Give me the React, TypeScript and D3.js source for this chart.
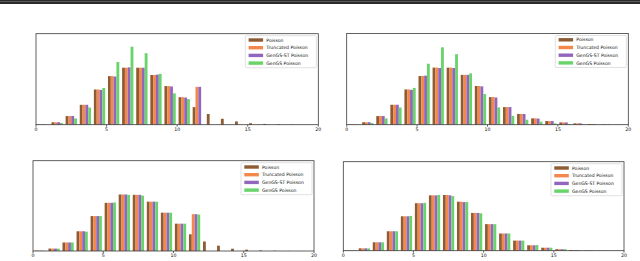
import React from "react";
import * as d3 from "d3";

// bins of the histograms (left edge of each unit bin)
const bins = [0, 1, 2, 3, 4, 5, 6, 7, 8, 9, 10, 11, 12, 13, 14, 15, 16, 17, 18, 19];
const seriesNames = ["Poisson", "Truncated Poisson", "GenGS-ST Poisson", "GenGS Poisson"];
const xTicks = [0, 5, 10, 15, 20];

// top-left: truncation at 11
const poissonTL = [0.0009, 0.0064, 0.0225, 0.052, 0.092, 0.127, 0.149, 0.149, 0.13, 0.101, 0.072, 0.046, 0.028, 0.0155, 0.0085, 0.004, 0.002, 0.001, 0.0005, 0.0002];
const truncTL = [0.0009, 0.0064, 0.0225, 0.052, 0.092, 0.127, 0.149, 0.149, 0.13, 0.101, 0.072, 0.099, 0, 0, 0, 0, 0, 0, 0, 0];
const genStTL = [0.0008, 0.0066, 0.0228, 0.052, 0.091, 0.126, 0.15, 0.149, 0.131, 0.1, 0.071, 0.099, 0, 0, 0, 0, 0, 0, 0, 0];
const gengsTL = [0.0002, 0.0045, 0.0165, 0.045, 0.096, 0.164, 0.204, 0.187, 0.133, 0.082, 0.067, 0, 0, 0, 0, 0, 0, 0, 0, 0];

// top-right: wide truncation
const poissonTR = [0.0009, 0.0064, 0.0225, 0.052, 0.092, 0.127, 0.149, 0.149, 0.13, 0.101, 0.072, 0.046, 0.028, 0.0165, 0.0095, 0.006, 0.0035, 0.0018, 0.0008, 0.0003];
const truncTR = [0.0009, 0.0064, 0.0225, 0.052, 0.092, 0.127, 0.149, 0.149, 0.13, 0.101, 0.072, 0.046, 0.028, 0.0165, 0.0095, 0.006, 0.0035, 0.0018, 0.0008, 0.0003];
const genStTR = [0.0008, 0.0065, 0.0226, 0.052, 0.091, 0.128, 0.148, 0.148, 0.13, 0.1, 0.071, 0.046, 0.028, 0.016, 0.0095, 0.006, 0.0035, 0.0017, 0.0008, 0.0003];
const gengsTR = [0.0002, 0.0044, 0.0165, 0.045, 0.096, 0.159, 0.202, 0.184, 0.134, 0.08, 0.045, 0.023, 0.013, 0.008, 0.0035, 0.002, 0.001, 0.0005, 0.0002, 0.0001];

// bottom-left: truncation at 11, all close
const poissonBL = [0.0009, 0.0064, 0.0225, 0.052, 0.092, 0.127, 0.149, 0.148, 0.13, 0.101, 0.072, 0.044, 0.025, 0.014, 0.006, 0.0035, 0.0015, 0.0007, 0.0003, 0.0001];
const truncBL = [0.0009, 0.0064, 0.0225, 0.052, 0.092, 0.127, 0.149, 0.148, 0.13, 0.101, 0.072, 0.097, 0, 0, 0, 0, 0, 0, 0, 0];
const genStBL = [0.0009, 0.0064, 0.0225, 0.052, 0.092, 0.127, 0.149, 0.148, 0.13, 0.101, 0.072, 0.097, 0, 0, 0, 0, 0, 0, 0, 0];
const gengsBL = [0.0009, 0.0063, 0.0224, 0.051, 0.092, 0.128, 0.148, 0.146, 0.13, 0.101, 0.072, 0.096, 0, 0, 0, 0, 0, 0, 0, 0];

// bottom-right: all close
const poissonBR = [0.0009, 0.0064, 0.0225, 0.052, 0.092, 0.127, 0.148, 0.149, 0.131, 0.101, 0.071, 0.046, 0.027, 0.0145, 0.008, 0.004, 0.0018, 0.0009, 0.0004, 0.0002];
const truncBR = [0.0009, 0.0064, 0.0225, 0.052, 0.092, 0.127, 0.148, 0.149, 0.131, 0.101, 0.071, 0.046, 0.027, 0.0145, 0.008, 0.004, 0.0018, 0.0009, 0.0004, 0.0002];
const genStBR = [0.0009, 0.0064, 0.0225, 0.052, 0.092, 0.127, 0.148, 0.148, 0.13, 0.101, 0.071, 0.046, 0.027, 0.0145, 0.008, 0.004, 0.0018, 0.0009, 0.0004, 0.0002];
const gengsBR = [0.0009, 0.0062, 0.0224, 0.052, 0.093, 0.128, 0.149, 0.146, 0.13, 0.1, 0.071, 0.046, 0.027, 0.015, 0.008, 0.0042, 0.0019, 0.0009, 0.0004, 0.0002];

const colors = ["#8e5c33", "#f4874c", "#9366bd", "#68d46a"];

const W = 640;
const H = 261;
const yMax = 0.238;

const panels = [
  { left: 36, top: 33.7, right: 318.3, bottom: 124.7, data: [poissonTL, truncTL, genStTL, gengsTL] },
  { left: 346.7, top: 33.5, right: 628.3, bottom: 124.7, data: [poissonTR, truncTR, genStTR, gengsTR] },
  { left: 33, top: 160.7, right: 314, bottom: 251, data: [poissonBL, truncBL, genStBL, gengsBL] },
  { left: 343.3, top: 161.7, right: 624, bottom: 250.7, data: [poissonBR, truncBR, genStBR, gengsBR] },
];

const font = "DejaVu Sans, sans-serif";

function Panel({ p }: { p: (typeof panels)[number] }) {
  const x = d3.scaleLinear().domain([0, 20]).range([p.left, p.right]);
  const y = d3.scaleLinear().domain([0, yMax]).range([p.bottom, p.top]);
  const dw = 0.2;

  const legW = 71;
  const legX = p.right - 2 - legW;
  const legY = p.top + 2;

  return (
    <g>
      {p.data.map((vals, si) => (
        <g key={si} fill={colors[si]}>
          {vals.map((v, i) => {
            const x0 = x(bins[i] + 0.1 + si * dw);
            const x1 = x(bins[i] + 0.1 + (si + 1) * dw);
            const yt = y(v);
            return v > 0 ? (
              <rect key={i} x={x0} y={yt} width={x1 - x0} height={p.bottom - yt} />
            ) : null;
          })}
        </g>
      ))}
      {/* axes frame */}
      <rect x={p.left} y={p.top} width={p.right - p.left} height={p.bottom - p.top}
        fill="none" stroke="#3a3a3a" strokeWidth={0.8} />
      {xTicks.map((t) => (
        <g key={t}>
          <line x1={x(t)} x2={x(t)} y1={p.bottom} y2={p.bottom + 2} stroke="#222" strokeWidth={0.7} />
          <text x={x(t)} y={p.bottom + 6.3} fontSize={4.7} textAnchor="middle"
            fontFamily={font} fill="#111">{t}</text>
        </g>
      ))}
      {/* legend */}
      <rect x={legX} y={legY} width={legW} height={32} rx={1} fill="#fff" fillOpacity={0.8}
        stroke="#cccccc" strokeWidth={0.6} />
      {seriesNames.map((name, i) => {
        const cy = legY + 4.3 + i * 7.7;
        return (
          <g key={name}>
            <rect x={legX + 3.3} y={cy - 1.7} width={14.5} height={3.4} fill={colors[i]} />
            <text x={legX + 21} y={cy + 1.6} fontSize={4.6} fontFamily={font} fill="#111">{name}</text>
          </g>
        );
      })}
    </g>
  );
}

export default function App() {
  return (
    <svg width={W} height={H} style={{ position: "absolute", left: 0, top: 0, background: "#fff" }}>
      <rect x={0} y={0} width={W} height={H} fill="#fff" />
      <rect x={0} y={0} width={W} height={4} fill="#2b2b2b" />
      <line x1={0} x2={W} y1={1.5} y2={1.5} stroke="#6a6a6a" strokeWidth={0.8} />
      {panels.map((p, i) => (
        <Panel key={i} p={p} />
      ))}
    </svg>
  );
}
